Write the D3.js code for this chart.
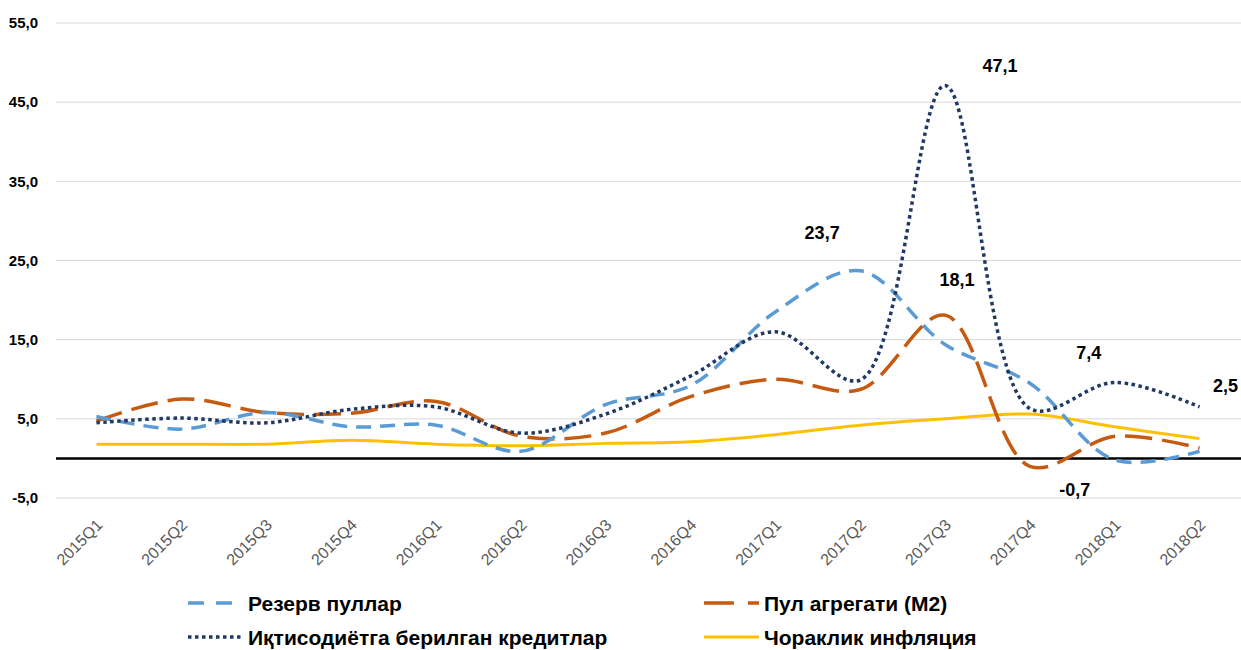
<!DOCTYPE html>
<meta charset="utf-8">
<head>
    <title> Monetary indicators </title>
    <script src="https://d3js.org/d3.v7.min.js"></script>
    <style>
        body { margin: 0; background: #ffffff; }
        text { font-family: "Liberation Sans", Arial, sans-serif; }
    </style>
</head>
<body>
<div id="my_dataviz"></div>
<script>

// categories and series
var quarters = ["2015Q1", "2015Q2", "2015Q3", "2015Q4", "2016Q1", "2016Q2", "2016Q3",
                "2016Q4", "2017Q1", "2017Q2", "2017Q3", "2017Q4", "2018Q1", "2018Q2"];
var reserveMoney = [5.3, 3.7, 5.8, 4.0, 4.2, 0.9, 6.8, 9.2, 18.5, 23.7, 14.4, 9.5, -0.2, 0.9];
var moneyM2      = [4.7, 7.5, 5.8, 5.7, 7.2, 2.8, 3.2, 7.8, 10.0, 8.7, 18.1, -1.0, 2.8, 1.3];
var credits      = [4.5, 5.1, 4.5, 6.2, 6.5, 3.2, 5.6, 10.4, 16.0, 9.9, 47.1, 6.3, 9.6, 6.5];
var inflation    = [1.8, 1.8, 1.8, 2.3, 1.8, 1.6, 1.9, 2.1, 3.0, 4.2, 5.0, 5.6, 4.0, 2.5];
var yTicks = [-5, 5, 15, 25, 35, 45, 55];

// data labels: quarter, value, text
var labelQuarters = ["2017Q3", "2017Q2", "2017Q3", "2018Q1", "2018Q2", "2017Q4"];
var labelValues   = [47.1, 23.7, 18.1, 7.4, 2.5, -0.7];
var labelTexts    = ["47,1", "23,7", "18,1", "7,4", "2,5", "-0,7"];
var labelOffsets  = [[55, -20], [-38, -38], [12, -35], [-26, -47], [26, -53], [45, 26]];

var width = 1241, height = 650;
var plotLeft = 56, plotRight = 1241;

var svg = d3.select("#my_dataviz")
    .append("svg")
    .attr("width", width)
    .attr("height", height);

// scales
var x = d3.scalePoint()
    .domain(quarters)
    .range([54, 1242])
    .padding(0.5);
var y = d3.scaleLinear()
    .domain([-5, 55])
    .range([498, 23]);

// grid lines
svg.append("g")
    .selectAll("line")
    .data(yTicks)
    .enter().append("line")
    .attr("x1", plotLeft).attr("x2", plotRight)
    .attr("y1", function(d) { return y(d); })
    .attr("y2", function(d) { return y(d); })
    .attr("stroke", "#d9d9d9")
    .attr("stroke-width", 1);

// Y axis labels
svg.append("g")
    .selectAll("text")
    .data(yTicks)
    .enter().append("text")
    .attr("x", 38)
    .attr("y", function(d) { return y(d); })
    .attr("dy", "0.35em")
    .attr("text-anchor", "end")
    .style("font-size", "15px")
    .style("font-weight", "bold")
    .text(function(d) { return d.toFixed(1).replace(".", ","); });

// X axis labels
svg.append("g")
    .selectAll("text")
    .data(quarters)
    .enter().append("text")
    .attr("transform", function(d) { return "translate(" + (x(d) + 7) + ",526) rotate(-45)"; })
    .attr("text-anchor", "end")
    .style("font-size", "16px")
    .style("fill", "#595959")
    .text(function(d) { return d; });

// zero line
svg.append("line")
    .attr("x1", plotLeft).attr("x2", plotRight)
    .attr("y1", y(0)).attr("y2", y(0))
    .attr("stroke", "#000000")
    .attr("stroke-width", 2.5);

// lines
var series = [
    {name: "Резерв пуллар", values: reserveMoney, color: "#5B9BD5", dash: "15,9", width: 3.5},
    {name: "Пул агрегати (M2)", values: moneyM2, color: "#C55A11", dash: "27,10", width: 3.5},
    {name: "Иқтисодиётга берилган кредитлар", values: credits, color: "#203864", dash: "3.5,3.5", width: 3.5},
    {name: "Чораклик инфляция", values: inflation, color: "#FFC000", dash: null, width: 3}
];

var line = d3.line()
    .x(function(d, i) { return x(quarters[i]); })
    .y(function(d) { return y(d); })
    .curve(d3.curveCatmullRom.alpha(0.5));

// draw inflation first so the others sit on top
[3, 1, 0, 2].forEach(function(k) {
    var s = series[k];
    svg.append("path")
        .datum(s.values)
        .attr("fill", "none")
        .attr("stroke", s.color)
        .attr("stroke-width", s.width)
        .attr("stroke-dasharray", s.dash)
        .attr("d", line);
});

// data labels
svg.append("g")
    .selectAll("text")
    .data(labelTexts)
    .enter().append("text")
    .attr("x", function(d, i) { return x(labelQuarters[i]) + labelOffsets[i][0]; })
    .attr("y", function(d, i) { return y(labelValues[i]) + labelOffsets[i][1]; })
    .attr("dy", "0.35em")
    .attr("text-anchor", "middle")
    .style("font-size", "18px")
    .style("font-weight", "bold")
    .text(function(d) { return d; });

// legend
var legendPos = [[188, 603], [704, 603], [188, 637], [704, 637]];
var legendDash = ["16,12", "30,14", "3.5,3.5", null];
series.forEach(function(s, i) {
    var p = legendPos[i];
    svg.append("line")
        .attr("x1", p[0]).attr("x2", p[0] + 55)
        .attr("y1", p[1]).attr("y2", p[1])
        .attr("stroke", s.color)
        .attr("stroke-width", s.width)
        .attr("stroke-dasharray", legendDash[i]);
    svg.append("text")
        .attr("x", p[0] + 60)
        .attr("y", p[1] + 8)
        .style("font-size", "21px")
        .style("font-weight", "bold")
        .text(s.name);
});

</script>
</body>
</html>
